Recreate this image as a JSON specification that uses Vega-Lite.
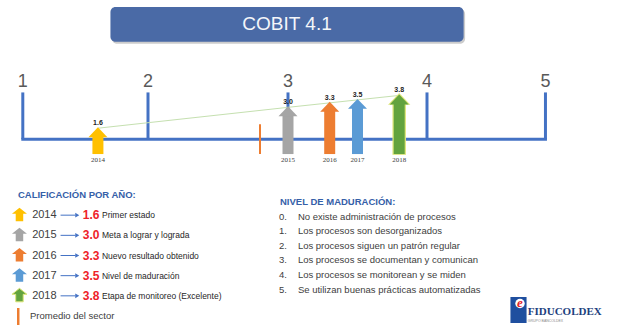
{
  "$schema": "https://vega.github.io/schema/vega-lite/v6.json",
  "width": 618,
  "height": 325,
  "autosize": {"type": "fit", "contains": "padding"},
  "padding": 0,
  "background": "#ffffff",
  "config": {
    "view": {"stroke": null},
    "axis": {"disable": true},
    "legend": {"disable": true},
    "font": "Liberation Sans"
  },
  "datasets": {
    "title": [{"title": "COBIT 4.1"}],
    "scores": [
      {"year": "2014", "value": 1.6, "desc": "Primer estado"},
      {"year": "2015", "value": 3.0, "desc": "Meta a lograr y lograda"},
      {"year": "2016", "value": 3.3, "desc": "Nuevo resultado obtenido"},
      {"year": "2017", "value": 3.5, "desc": "Nivel de maduración"},
      {"year": "2018", "value": 3.8, "desc": "Etapa de monitoreo (Excelente)"}
    ],
    "sector": [{"label": "Promedio del sector", "value": 2.8}],
    "nivel": [
      {"nivel": 0, "num": "0.", "text": "No existe administración de procesos"},
      {"nivel": 1, "num": "1.", "text": "Los procesos son desorganizados"},
      {"nivel": 2, "num": "2.", "text": "Los procesos siguen un patrón regular"},
      {"nivel": 3, "num": "3.", "text": "Los procesos se documentan y comunican"},
      {"nivel": 4, "num": "4.", "text": "Los procesos se monitorean y se miden"},
      {"nivel": 5, "num": "5.", "text": "Se utilizan buenas prácticas automatizadas"}
    ],
    "headers": [
      {"key": "calif", "text": "CALIFICACIÓN POR AÑO:"},
      {"key": "nivel", "text": "NIVEL DE MADURACIÓN:"}
    ],
    "logo": [{"name": "FIDUCOLDEX", "sub": "GRUPO BANCOLDEX"}]
  },
  "resolve": {"scale": {"x": "independent", "y": "independent"}},
  "layer": [
    {
      "layer": [
        {
          "data": {"name": "title"},
          "mark": {"type": "rect", "cornerRadius": 5, "fill": "#000000", "opacity": 0.2, "xOffset": 1.5, "x2Offset": 1.5, "yOffset": 2, "y2Offset": 2},
          "encoding": {
            "x": {"datum": 1.7, "type": "quantitative", "scale": {"type": "linear", "domain": [1, 2, 3, 4, 5], "range": [18, 148, 288, 427, 550], "nice": false, "zero": false}},
            "x2": {"datum": 4.309},
            "y": {"datum": 9.667, "type": "quantitative", "scale": {"type": "linear", "domain": [-11.5333, 10.1333], "nice": false, "zero": false}},
            "y2": {"datum": 7.333}
          }
        },
        {
          "data": {"name": "title"},
          "mark": {"type": "rect", "cornerRadius": 5, "fill": "#4a6aa6"},
          "encoding": {
            "x": {"datum": 1.7, "type": "quantitative", "scale": {"type": "linear", "domain": [1, 2, 3, 4, 5], "range": [18, 148, 288, 427, 550], "nice": false, "zero": false}},
            "x2": {"datum": 4.309},
            "y": {"datum": 9.667, "type": "quantitative", "scale": {"type": "linear", "domain": [-11.5333, 10.1333], "nice": false, "zero": false}},
            "y2": {"datum": 7.333}
          }
        },
        {
          "data": {"name": "title"},
          "mark": {"type": "text", "fontSize": 19, "fill": "#f4f6fa", "align": "center", "baseline": "middle", "font": "Liberation Sans"},
          "encoding": {
            "x": {"datum": 2.993, "type": "quantitative", "scale": {"type": "linear", "domain": [1, 2, 3, 4, 5], "range": [18, 148, 288, 427, 550], "nice": false, "zero": false}},
            "y": {"datum": 8.5, "type": "quantitative", "scale": {"type": "linear", "domain": [-11.5333, 10.1333], "nice": false, "zero": false}},
            "text": {"field": "title"}
          }
        },
        {
          "data": {"name": "nivel"},
          "transform": [{"filter": "datum.nivel >= 1"}],
          "mark": {"type": "line", "stroke": "#4472c4", "strokeWidth": 3, "strokeCap": "square"},
          "encoding": {
            "x": {"field": "nivel", "type": "quantitative", "scale": {"type": "linear", "domain": [1, 2, 3, 4, 5], "range": [18, 148, 288, 427, 550], "nice": false, "zero": false}},
            "y": {"datum": 0.8, "type": "quantitative", "scale": {"type": "linear", "domain": [-11.5333, 10.1333], "nice": false, "zero": false}}
          }
        },
        {
          "data": {"name": "nivel"},
          "transform": [{"filter": "datum.nivel >= 1"}],
          "mark": {"type": "rule", "stroke": "#4472c4", "strokeWidth": 3},
          "encoding": {
            "x": {"field": "nivel", "type": "quantitative", "scale": {"type": "linear", "domain": [1, 2, 3, 4, 5], "range": [18, 148, 288, 427, 550], "nice": false, "zero": false}},
            "y": {"datum": 0.8, "type": "quantitative", "scale": {"type": "linear", "domain": [-11.5333, 10.1333], "nice": false, "zero": false}},
            "y2": {"datum": 3.933}
          }
        },
        {
          "data": {"name": "nivel"},
          "transform": [{"filter": "datum.nivel >= 1"}],
          "mark": {"type": "text", "fontSize": 18, "fill": "#595959", "align": "center", "baseline": "alphabetic"},
          "encoding": {
            "x": {"field": "nivel", "type": "quantitative", "scale": {"type": "linear", "domain": [1, 2, 3, 4, 5], "range": [18, 148, 288, 427, 550], "nice": false, "zero": false}},
            "y": {"datum": 4.267, "type": "quantitative", "scale": {"type": "linear", "domain": [-11.5333, 10.1333], "nice": false, "zero": false}},
            "text": {"field": "nivel", "type": "quantitative", "format": "d"}
          }
        },
        {
          "data": {"name": "scores"},
          "mark": {"type": "line", "stroke": "#c5e0b0", "strokeWidth": 1, "yOffset": 1},
          "encoding": {
            "x": {"field": "value", "type": "quantitative", "scale": {"type": "linear", "domain": [1, 2, 3, 4, 5], "range": [18, 148, 288, 427, 550], "nice": false, "zero": false}},
            "y": {"field": "value", "type": "quantitative", "scale": {"type": "linear", "domain": [-11.5333, 10.1333], "nice": false, "zero": false}}
          }
        },
        {
          "data": {"name": "sector"},
          "mark": {"type": "rule", "stroke": "#ed7d31", "strokeWidth": 2},
          "encoding": {
            "x": {"field": "value", "type": "quantitative", "scale": {"type": "linear", "domain": [1, 2, 3, 4, 5], "range": [18, 148, 288, 427, 550], "nice": false, "zero": false}},
            "y": {"datum": 1.8, "type": "quantitative", "scale": {"type": "linear", "domain": [-11.5333, 10.1333], "nice": false, "zero": false}},
            "y2": {"datum": -0.2}
          }
        },
        {
          "data": {"name": "scores"},
          "transform": [{"filter": "datum.year === '2018'"}],
          "mark": {"type": "bar", "width": 13.5, "fill": "#dfe67a", "yOffset": 7, "y2Offset": 0.8},
          "encoding": {
            "x": {"field": "value", "type": "quantitative", "scale": {"type": "linear", "domain": [1, 2, 3, 4, 5], "range": [18, 148, 288, 427, 550], "nice": false, "zero": false}},
            "y": {"field": "value", "type": "quantitative", "scale": {"type": "linear", "domain": [-11.5333, 10.1333], "nice": false, "zero": false}},
            "y2": {"datum": -0.2}
          }
        },
        {
          "data": {"name": "scores"},
          "transform": [{"filter": "datum.year === '2018'"}],
          "mark": {"type": "point", "filled": true, "opacity": 1, "fill": "#dfe67a", "size": 500, "shape": "M0,0L1,1.05L-1,1.05Z", "yOffset": -1.5},
          "encoding": {
            "x": {"field": "value", "type": "quantitative", "scale": {"type": "linear", "domain": [1, 2, 3, 4, 5], "range": [18, 148, 288, 427, 550], "nice": false, "zero": false}},
            "y": {"field": "value", "type": "quantitative", "scale": {"type": "linear", "domain": [-11.5333, 10.1333], "nice": false, "zero": false}}
          }
        },
        {
          "data": {"name": "scores"},
          "mark": {"type": "bar", "width": 11, "yOffset": 8},
          "encoding": {
            "x": {"field": "value", "type": "quantitative", "scale": {"type": "linear", "domain": [1, 2, 3, 4, 5], "range": [18, 148, 288, 427, 550], "nice": false, "zero": false}},
            "y": {"field": "value", "type": "quantitative", "scale": {"type": "linear", "domain": [-11.5333, 10.1333], "nice": false, "zero": false}},
            "y2": {"datum": -0.2},
            "color": {"field": "year", "type": "nominal", "scale": {"domain": ["2014", "2015", "2016", "2017", "2018"], "range": ["#ffc000", "#a5a5a5", "#ed7d31", "#5b9bd5", "#63a33e"]}}
          }
        },
        {
          "data": {"name": "scores"},
          "mark": {"type": "point", "filled": true, "opacity": 1, "size": 361, "shape": "M0,0L1,1.05L-1,1.05Z"},
          "encoding": {
            "x": {"field": "value", "type": "quantitative", "scale": {"type": "linear", "domain": [1, 2, 3, 4, 5], "range": [18, 148, 288, 427, 550], "nice": false, "zero": false}},
            "y": {"field": "value", "type": "quantitative", "scale": {"type": "linear", "domain": [-11.5333, 10.1333], "nice": false, "zero": false}},
            "color": {"field": "year", "type": "nominal", "scale": {"domain": ["2014", "2015", "2016", "2017", "2018"], "range": ["#ffc000", "#a5a5a5", "#ed7d31", "#5b9bd5", "#63a33e"]}}
          }
        },
        {
          "data": {"name": "scores"},
          "mark": {"type": "text", "fontSize": 7, "fontWeight": "bold", "fill": "#222222", "align": "center", "baseline": "bottom", "dy": -1},
          "encoding": {
            "x": {"field": "value", "type": "quantitative", "scale": {"type": "linear", "domain": [1, 2, 3, 4, 5], "range": [18, 148, 288, 427, 550], "nice": false, "zero": false}},
            "y": {"field": "value", "type": "quantitative", "scale": {"type": "linear", "domain": [-11.5333, 10.1333], "nice": false, "zero": false}},
            "text": {"field": "value", "type": "quantitative", "format": ".1f"}
          }
        },
        {
          "data": {"name": "scores"},
          "mark": {"type": "text", "fontSize": 7, "font": "Liberation Serif", "fill": "#404040", "align": "center", "baseline": "middle"},
          "encoding": {
            "x": {"field": "value", "type": "quantitative", "scale": {"type": "linear", "domain": [1, 2, 3, 4, 5], "range": [18, 148, 288, 427, 550], "nice": false, "zero": false}},
            "y": {"datum": -0.567, "type": "quantitative", "scale": {"type": "linear", "domain": [-11.5333, 10.1333], "nice": false, "zero": false}},
            "text": {"field": "year"}
          }
        }
      ]
    },
    {
      "layer": [
        {
          "data": {"name": "headers"},
          "transform": [{"filter": "datum.key === 'calif'"}],
          "mark": {"type": "text", "fontSize": 9.5, "fontWeight": "bold", "fill": "#3560a8", "align": "left", "baseline": "middle"},
          "encoding": {
            "x": {"datum": 2.9, "type": "quantitative", "scale": {"type": "linear", "domain": [0, 100], "nice": false, "zero": false}},
            "y": {"field": "text", "type": "nominal", "scale": {"type": "point", "domain": ["CALIFICACIÓN POR AÑO:", "2014", "2015", "2016", "2017", "2018", "Promedio del sector"], "range": [195, 316], "padding": 0}},
            "text": {"field": "text"}
          }
        },
        {
          "data": {"name": "scores"},
          "mark": {"type": "point", "filled": true, "opacity": 1, "size": 225, "shape": "M0,-1L1,-0.2L0.5,-0.2L0.5,0.8L-0.5,0.8L-0.5,-0.2L-1,-0.2Z", "stroke": "#dfe67a"},
          "encoding": {
            "x": {"datum": 3.15, "type": "quantitative", "scale": {"type": "linear", "domain": [0, 100], "nice": false, "zero": false}},
            "y": {"field": "year", "type": "nominal", "scale": {"type": "point", "domain": ["CALIFICACIÓN POR AÑO:", "2014", "2015", "2016", "2017", "2018", "Promedio del sector"], "range": [195, 316], "padding": 0}},
            "color": {"field": "year", "type": "nominal", "scale": {"domain": ["2014", "2015", "2016", "2017", "2018"], "range": ["#ffc000", "#a5a5a5", "#ed7d31", "#5b9bd5", "#63a33e"]}},
            "strokeWidth": {"condition": {"test": "datum.year === '2018'", "value": 1}, "value": 0}
          }
        },
        {
          "data": {"name": "scores"},
          "mark": {"type": "text", "fontSize": 11, "fill": "#404040", "align": "left", "baseline": "middle"},
          "encoding": {
            "x": {"datum": 5.2, "type": "quantitative", "scale": {"type": "linear", "domain": [0, 100], "nice": false, "zero": false}},
            "y": {"field": "year", "type": "nominal", "scale": {"type": "point", "domain": ["CALIFICACIÓN POR AÑO:", "2014", "2015", "2016", "2017", "2018", "Promedio del sector"], "range": [195, 316], "padding": 0}},
            "text": {"field": "year"}
          }
        },
        {
          "data": {"name": "scores"},
          "mark": {"type": "rule", "stroke": "#4472c4", "strokeWidth": 1},
          "encoding": {
            "x": {"datum": 9.8, "type": "quantitative", "scale": {"type": "linear", "domain": [0, 100], "nice": false, "zero": false}},
            "x2": {"datum": 12.2},
            "y": {"field": "year", "type": "nominal", "scale": {"type": "point", "domain": ["CALIFICACIÓN POR AÑO:", "2014", "2015", "2016", "2017", "2018", "Promedio del sector"], "range": [195, 316], "padding": 0}}
          }
        },
        {
          "data": {"name": "scores"},
          "mark": {"type": "point", "filled": true, "opacity": 1, "shape": "triangle-right", "size": 22, "fill": "#4472c4"},
          "encoding": {
            "x": {"datum": 12.5, "type": "quantitative", "scale": {"type": "linear", "domain": [0, 100], "nice": false, "zero": false}},
            "y": {"field": "year", "type": "nominal", "scale": {"type": "point", "domain": ["CALIFICACIÓN POR AÑO:", "2014", "2015", "2016", "2017", "2018", "Promedio del sector"], "range": [195, 316], "padding": 0}}
          }
        },
        {
          "data": {"name": "scores"},
          "mark": {"type": "text", "fontSize": 12, "fontWeight": "bold", "fill": "#ee2229", "align": "left", "baseline": "middle"},
          "encoding": {
            "x": {"datum": 13.4, "type": "quantitative", "scale": {"type": "linear", "domain": [0, 100], "nice": false, "zero": false}},
            "y": {"field": "year", "type": "nominal", "scale": {"type": "point", "domain": ["CALIFICACIÓN POR AÑO:", "2014", "2015", "2016", "2017", "2018", "Promedio del sector"], "range": [195, 316], "padding": 0}},
            "text": {"field": "value", "type": "quantitative", "format": ".1f"}
          }
        },
        {
          "data": {"name": "scores"},
          "mark": {"type": "text", "fontSize": 8.5, "fill": "#262626", "align": "left", "baseline": "middle"},
          "encoding": {
            "x": {"datum": 16.5, "type": "quantitative", "scale": {"type": "linear", "domain": [0, 100], "nice": false, "zero": false}},
            "y": {"field": "year", "type": "nominal", "scale": {"type": "point", "domain": ["CALIFICACIÓN POR AÑO:", "2014", "2015", "2016", "2017", "2018", "Promedio del sector"], "range": [195, 316], "padding": 0}},
            "text": {"field": "desc"}
          }
        },
        {
          "data": {"name": "sector"},
          "mark": {"type": "rule", "stroke": "#ed7d31", "strokeWidth": 2.5, "yOffset": -8, "y2Offset": 9},
          "encoding": {
            "x": {"datum": 2.95, "type": "quantitative", "scale": {"type": "linear", "domain": [0, 100], "nice": false, "zero": false}},
            "y": {"field": "label", "type": "nominal", "scale": {"type": "point", "domain": ["CALIFICACIÓN POR AÑO:", "2014", "2015", "2016", "2017", "2018", "Promedio del sector"], "range": [195, 316], "padding": 0}},
            "y2": {"field": "label"}
          }
        },
        {
          "data": {"name": "sector"},
          "mark": {"type": "text", "fontSize": 9.5, "fill": "#404040", "align": "left", "baseline": "middle"},
          "encoding": {
            "x": {"datum": 4.85, "type": "quantitative", "scale": {"type": "linear", "domain": [0, 100], "nice": false, "zero": false}},
            "y": {"field": "label", "type": "nominal", "scale": {"type": "point", "domain": ["CALIFICACIÓN POR AÑO:", "2014", "2015", "2016", "2017", "2018", "Promedio del sector"], "range": [195, 316], "padding": 0}},
            "text": {"field": "label"}
          }
        }
      ]
    },
    {
      "layer": [
        {
          "data": {"name": "headers"},
          "transform": [{"filter": "datum.key === 'nivel'"}],
          "mark": {"type": "text", "fontSize": 9.5, "fontWeight": "bold", "fill": "#3560a8", "align": "left", "baseline": "middle"},
          "encoding": {
            "x": {"datum": 45.3, "type": "quantitative", "scale": {"type": "linear", "domain": [0, 100], "nice": false, "zero": false}},
            "y": {"field": "text", "type": "nominal", "scale": {"type": "point", "domain": ["NIVEL DE MADURACIÓN:", "0.", "1.", "2.", "3.", "4.", "5."], "range": [202, 289.5], "padding": 0}},
            "text": {"field": "text"}
          }
        },
        {
          "data": {"name": "nivel"},
          "mark": {"type": "text", "fontSize": 9.5, "fill": "#404040", "align": "left", "baseline": "middle"},
          "encoding": {
            "x": {"datum": 45.15, "type": "quantitative", "scale": {"type": "linear", "domain": [0, 100], "nice": false, "zero": false}},
            "y": {"field": "num", "type": "nominal", "scale": {"type": "point", "domain": ["NIVEL DE MADURACIÓN:", "0.", "1.", "2.", "3.", "4.", "5."], "range": [202, 289.5], "padding": 0}},
            "text": {"field": "num"}
          }
        },
        {
          "data": {"name": "nivel"},
          "mark": {"type": "text", "fontSize": 9.5, "fill": "#404040", "align": "left", "baseline": "middle"},
          "encoding": {
            "x": {"datum": 48.2, "type": "quantitative", "scale": {"type": "linear", "domain": [0, 100], "nice": false, "zero": false}},
            "y": {"field": "num", "type": "nominal", "scale": {"type": "point", "domain": ["NIVEL DE MADURACIÓN:", "0.", "1.", "2.", "3.", "4.", "5."], "range": [202, 289.5], "padding": 0}},
            "text": {"field": "text"}
          }
        },
        {
          "data": {"name": "logo"},
          "mark": {"type": "point", "filled": true, "opacity": 1, "fill": "#1f4f9f", "size": 676, "shape": "M-0.62,-1L0.62,-1L0.62,1L-0.62,1Z", "yOffset": 20.5},
          "encoding": {
            "x": {"datum": 83.9, "type": "quantitative", "scale": {"type": "linear", "domain": [0, 100], "nice": false, "zero": false}},
            "y": {"datum": "5.", "type": "nominal", "scale": {"type": "point", "domain": ["NIVEL DE MADURACIÓN:", "0.", "1.", "2.", "3.", "4.", "5."], "range": [202, 289.5], "padding": 0}}
          }
        },
        {
          "data": {"name": "logo"},
          "mark": {"type": "point", "filled": true, "opacity": 1, "fill": "#ffffff", "size": 90, "shape": "circle", "yOffset": 14, "xOffset": 1.5},
          "encoding": {
            "x": {"datum": 83.9, "type": "quantitative", "scale": {"type": "linear", "domain": [0, 100], "nice": false, "zero": false}},
            "y": {"datum": "5.", "type": "nominal", "scale": {"type": "point", "domain": ["NIVEL DE MADURACIÓN:", "0.", "1.", "2.", "3.", "4.", "5."], "range": [202, 289.5], "padding": 0}}
          }
        },
        {
          "data": {"name": "logo"},
          "mark": {"type": "text", "text": "e", "fontSize": 13, "fontWeight": "bold", "font": "Liberation Serif", "fontStyle": "italic", "fill": "#e3232b", "align": "center", "baseline": "middle", "yOffset": 13.5, "xOffset": 1.5},
          "encoding": {
            "x": {"datum": 83.9, "type": "quantitative", "scale": {"type": "linear", "domain": [0, 100], "nice": false, "zero": false}},
            "y": {"datum": "5.", "type": "nominal", "scale": {"type": "point", "domain": ["NIVEL DE MADURACIÓN:", "0.", "1.", "2.", "3.", "4.", "5."], "range": [202, 289.5], "padding": 0}}
          }
        },
        {
          "data": {"name": "logo"},
          "mark": {"type": "text", "fontSize": 11, "fontWeight": "bold", "font": "Liberation Serif", "fill": "#1d3f7e", "align": "left", "baseline": "middle", "yOffset": 22.5},
          "encoding": {
            "x": {"datum": 85.4, "type": "quantitative", "scale": {"type": "linear", "domain": [0, 100], "nice": false, "zero": false}},
            "y": {"datum": "5.", "type": "nominal", "scale": {"type": "point", "domain": ["NIVEL DE MADURACIÓN:", "0.", "1.", "2.", "3.", "4.", "5."], "range": [202, 289.5], "padding": 0}},
            "text": {"field": "name"}
          }
        },
        {
          "data": {"name": "logo"},
          "mark": {"type": "text", "fontSize": 3.5, "fill": "#8a8a8a", "align": "left", "baseline": "middle", "yOffset": 31.5},
          "encoding": {
            "x": {"datum": 85.4, "type": "quantitative", "scale": {"type": "linear", "domain": [0, 100], "nice": false, "zero": false}},
            "y": {"datum": "5.", "type": "nominal", "scale": {"type": "point", "domain": ["NIVEL DE MADURACIÓN:", "0.", "1.", "2.", "3.", "4.", "5."], "range": [202, 289.5], "padding": 0}},
            "text": {"field": "sub"}
          }
        }
      ]
    }
  ]
}
